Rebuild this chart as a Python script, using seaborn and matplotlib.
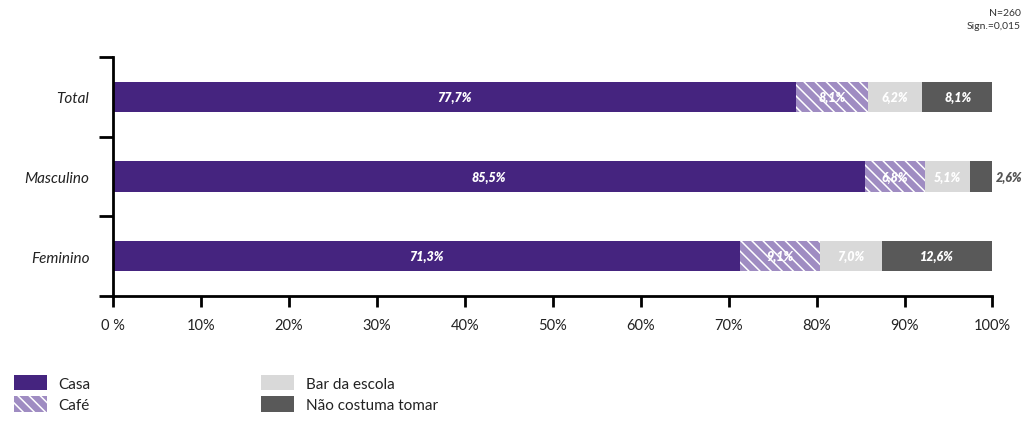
import numpy as np
import pandas as pd
import seaborn as sns
import matplotlib
matplotlib.use("Agg")
import matplotlib.pyplot as plt
from matplotlib.patches import Patch

categories = ["Total", "Masculino", "Feminino"]
series_names = ["Casa", "Café", "Bar da escola", "Não costuma tomar"]
casa = [77.7, 85.5, 71.3]
cafe = [8.1, 6.8, 9.1]
bar_escola = [6.2, 5.1, 7.0]
nao_costuma = [8.1, 2.6, 12.6]
label_casa = ["77,7%", "85,5%", "71,3%"]
label_cafe = ["8,1%", "6,8%", "9,1%"]
label_bar = ["6,2%", "5,1%", "7,0%"]
label_nao = ["8,1%", "2,6%", "12,6%"]
xtick_values = [0, 10, 20, 30, 40, 50, 60, 70, 80, 90, 100]
xtick_labels = ["0 %", "10%", "20%", "30%", "40%", "50%", "60%", "70%", "80%", "90%", "100%"]

colors = ["#45247f", "#9f8cc2", "#d9d9d9", "#595959"]

sns.set_theme(style="white")
plt.rcParams["font.family"] = ["Lato", "DejaVu Sans"]
plt.rcParams["hatch.linewidth"] = 1.1

series = [casa, cafe, bar_escola, nao_costuma]
cum = np.cumsum(np.array(series), axis=0)

fig = plt.figure(figsize=(10.36, 4.35), dpi=100)
ax = fig.add_axes([0.109, 0.317, 0.849, 0.55])

# draw cumulative bars from largest to smallest
for i in range(3, -1, -1):
    df = pd.DataFrame({"cat": categories, "val": cum[i]})
    kw = dict(edgecolor="white", linewidth=0)
    if i == 1:
        kw["hatch"] = "\\\\\\"
    sns.barplot(data=df, y="cat", x="val", orient="h", color=colors[i],
                saturation=1, width=0.38, ax=ax, order=categories, **kw)

# value labels
all_labels = [label_casa, label_cafe, label_bar, label_nao]
for i in range(4):
    for j in range(3):
        start = cum[i - 1][j] if i > 0 else 0.0
        w = series[i][j]
        txt = all_labels[i][j]
        if w < 4:
            ax.text(cum[i][j] + 0.4, j, txt, ha="left", va="center",
                    fontsize=9, fontweight="heavy", fontstyle="italic", color="#555555")
        else:
            ax.text(start + w / 2, j, txt, ha="center", va="center",
                    fontsize=9, fontweight="heavy", fontstyle="italic", color="white")

ax.set_xlim(0, 100)
ax.set_ylim(2.5, -0.5)
ax.set_xlabel("")
ax.set_ylabel("")
ax.set_xticks(xtick_values)
ax.set_xticklabels(xtick_labels, fontsize=10.5, color="#222222")
ax.set_yticks([-0.5, 0.5, 1.5, 2.5])
ax.set_yticklabels([])
ax.set_yticks([0, 1, 2], minor=True)
ax.set_yticklabels(categories, minor=True, fontsize=11, fontstyle="italic", color="#222222")
ax.tick_params(axis="y", which="major", length=10, width=2, color="black", direction="out", left=True)
ax.tick_params(axis="y", which="minor", length=0, pad=17)
ax.tick_params(axis="x", which="major", length=8, width=2, color="black", direction="out", bottom=True, pad=8)
for s in ["top", "right"]:
    ax.spines[s].set_visible(False)
for s in ["left", "bottom"]:
    ax.spines[s].set_color("black")
    ax.spines[s].set_linewidth(2)

fig.text(0.985, 0.970, "N=260", ha="right", va="center", fontsize=7.5, color="#333333")
fig.text(0.985, 0.938, "Sign.=0,015", ha="right", va="center", fontsize=7.5, color="#333333")

handles = [
    Patch(facecolor=colors[0], edgecolor="none"),
    Patch(facecolor=colors[1], edgecolor="white", hatch="\\\\\\", linewidth=0),
    Patch(facecolor=colors[2], edgecolor="none"),
    Patch(facecolor=colors[3], edgecolor="none"),
]
fig.legend(handles, series_names, loc="upper left", bbox_to_anchor=(0.0, 0.168),
           ncol=2, frameon=False, fontsize=11, handlelength=2.15, handleheight=1.18,
           columnspacing=11.2, labelspacing=0.36, handletextpad=0.75, labelcolor="#222222")

fig.savefig("out.png", dpi=100)
